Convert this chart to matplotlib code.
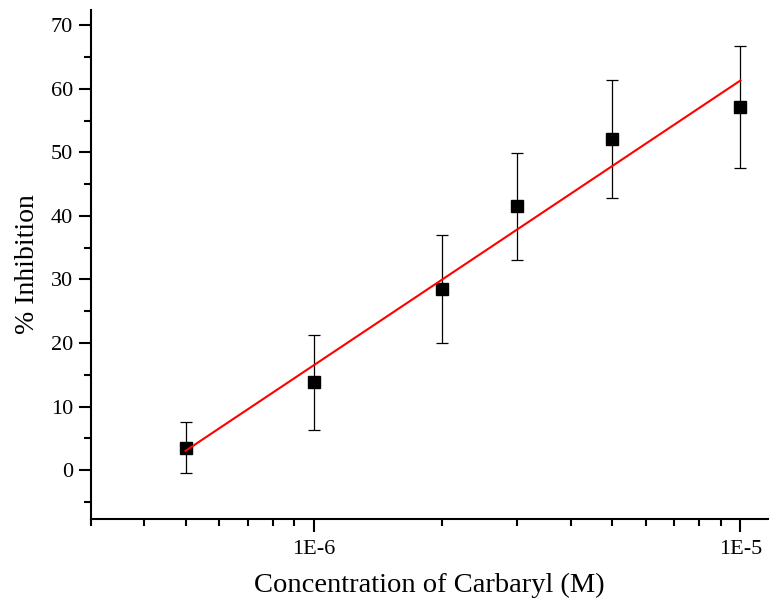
import matplotlib
matplotlib.use('Agg')
import matplotlib.pyplot as plt
import numpy as np
from matplotlib.ticker import FixedLocator, LogLocator, NullFormatter, MultipleLocator

# data
conc = [5e-7, 1e-6, 2e-6, 3e-6, 5e-6, 1e-5]
inhibition = [3.5, 13.8, 28.5, 41.5, 52.1, 57.2]
err = [4.0, 7.5, 8.5, 8.4, 9.3, 9.6]
xtick_vals = [1e-6, 1e-5]
xtick_labels = ['1E-6', '1E-5']

plt.rcParams['font.family'] = ['Liberation Serif', 'DejaVu Serif']

fig = plt.figure(figsize=(7.71, 6.04), dpi=100)
ax = fig.add_axes([0.118, 0.1407, 0.878, 0.8427])

ax.errorbar(conc, inhibition, yerr=err, fmt='s', color='black', ms=8.5,
            ecolor='black', elinewidth=0.9, capsize=4.5, capthick=0.9, zorder=3)

# linear fit of % inhibition vs log10(concentration)
logx = np.log10(conc)
slope, icpt = np.polyfit(logx, inhibition, 1)
xf = np.array([conc[0], conc[-1]])
ax.plot(xf, slope * np.log10(xf) + icpt, color='red', lw=1.5, zorder=4)

ax.set_xscale('log')
ax.set_xlim(3e-7, 1.16e-5)
ax.set_ylim(-7.7, 72.4)

ax.xaxis.set_major_locator(FixedLocator(xtick_vals))
ax.set_xticklabels(xtick_labels)
ax.xaxis.set_minor_locator(LogLocator(base=10, subs=np.arange(2, 10)))
ax.xaxis.set_minor_formatter(NullFormatter())
ax.yaxis.set_major_locator(MultipleLocator(10))
ax.yaxis.set_minor_locator(MultipleLocator(5))

for s in ['top', 'right']:
    ax.spines[s].set_visible(False)
for s in ['left', 'bottom']:
    ax.spines[s].set_linewidth(1.5)

ax.tick_params(which='major', direction='out', length=9, width=1.5, labelsize=16, pad=4)
ax.tick_params(which='minor', direction='out', length=5, width=1.5)
ax.tick_params(axis='x', which='major', pad=6)

ax.set_xlabel('Concentration of Carbaryl (M)', fontsize=20.5, labelpad=10)
ax.set_ylabel('% Inhibition', fontsize=20, labelpad=8)

plt.savefig('out.png', dpi=100)
